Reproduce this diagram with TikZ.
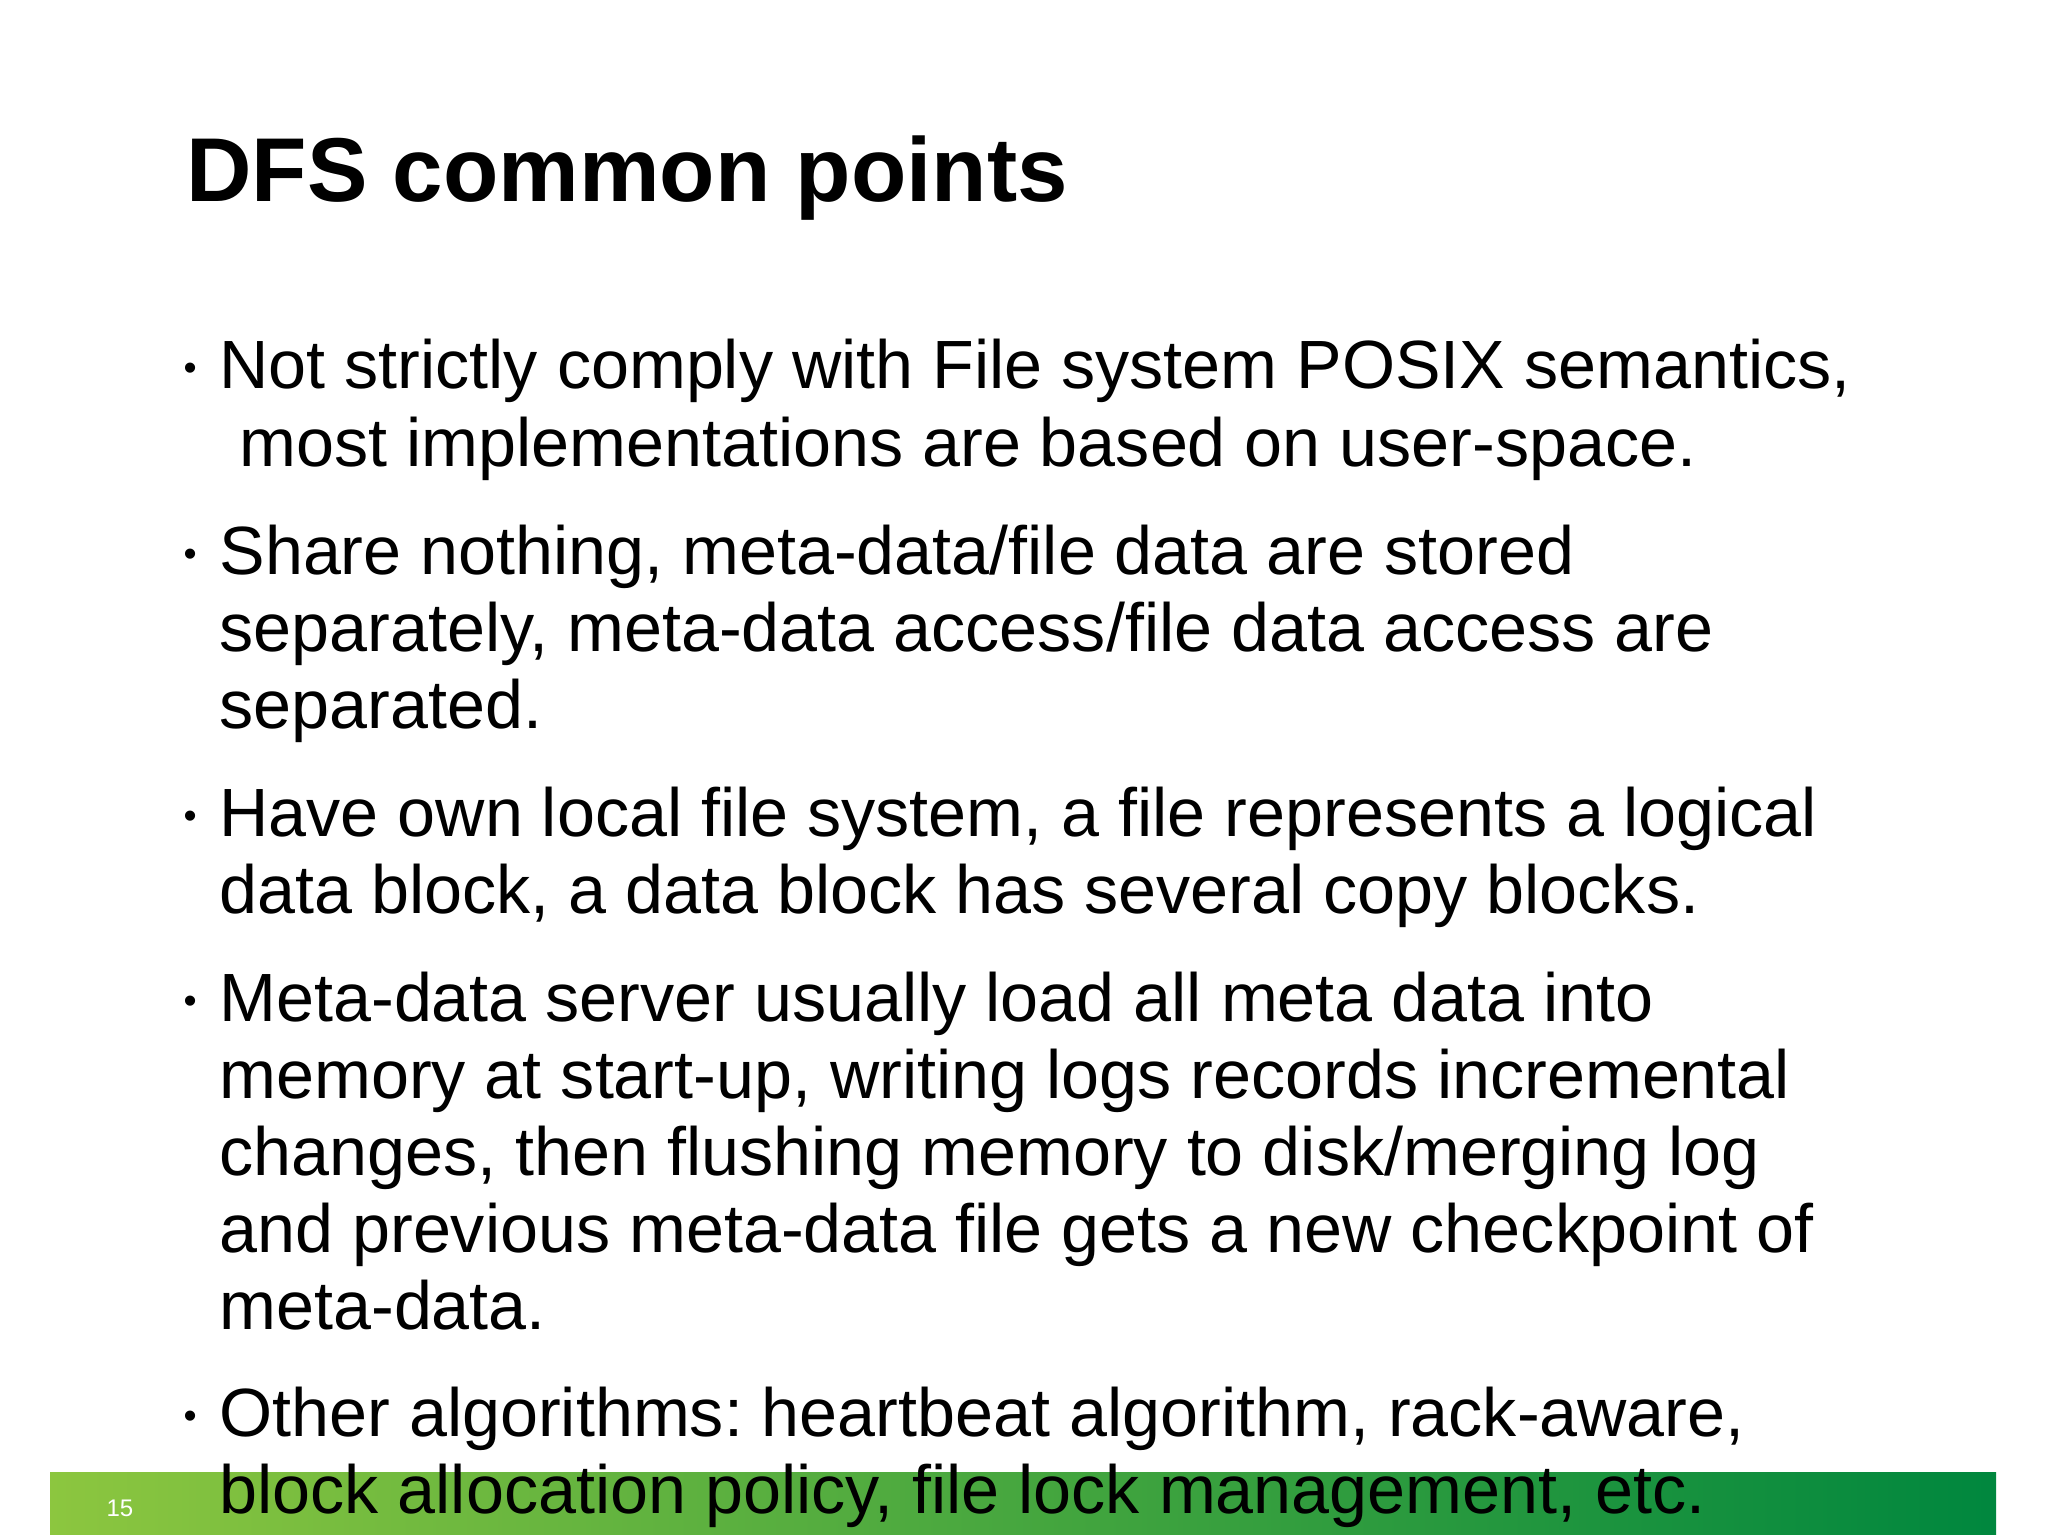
\documentclass[tikz,border=0pt]{standalone}
\usepackage{fontspec}
\setmainfont{Liberation Sans}
\frenchspacing
\begin{document}
\begin{tikzpicture}[x=0.375pt,y=-0.375pt,
  body/.style={anchor=base west,inner sep=0pt,font=\fontsize{25.6}{30}\selectfont\frenchspacing},
  dot/.style={anchor=base west,inner sep=0pt,font=\fontsize{14}{16}\selectfont}]
\useasboundingbox (0,0) rectangle (2048,1535);
\fill[white] (0,0) rectangle (2048,1535);
\shade[left color={rgb,255:red,140;green,198;blue,63},right color={rgb,255:red,0;green,135;blue,62}] (50,1472) rectangle (1996,1535);
\node[anchor=base west,inner sep=0pt,text=white,font=\fontsize{9}{10}\selectfont] (pg) at (106,1516) {15};
\node[anchor=base west,inner sep=0pt,font=\bfseries\fontsize{34}{40}\selectfont] (title) at (186,202) {DFS common points};
\foreach \n/\y in {b1/389,b2/575,b3/836,b4/1021,b5/1436}
  \node[dot] (\n) at (183,\y-8) {•};
\node[body] (l1) at (219,389) {Not strictly comply with File system POSIX semantics,};
\node[body] (l2) at (239,467) {most implementations are based on user-space.};
\node[body] (l3) at (219,575) {Share nothing, meta-data/file data are stored};
\node[body] (l4) at (219,652) {separately, meta-data access/file data access are};
\node[body] (l5) at (219,729) {separated.};
\node[body] (l6) at (219,836) {Have own local file system, a file represents a logical};
\node[body] (l7) at (219,913) {data block, a data block has several copy blocks.};
\node[body] (l8) at (219,1021) {Meta-data server usually load all meta data into};
\node[body] (l9) at (219,1098) {memory at start-up, writing logs records incremental};
\node[body] (l10) at (219,1175) {changes, then flushing memory to disk/merging log};
\node[body] (l11) at (219,1252) {and previous meta-data file gets a new checkpoint of};
\node[body] (l12) at (219,1329) {meta-data.};
\node[body] (l13) at (219,1436) {Other algorithms: heartbeat algorithm, rack-aware,};
\node[body] (l14) at (219,1513) {block allocation policy, file lock management, etc.};
\end{tikzpicture}
\end{document}
